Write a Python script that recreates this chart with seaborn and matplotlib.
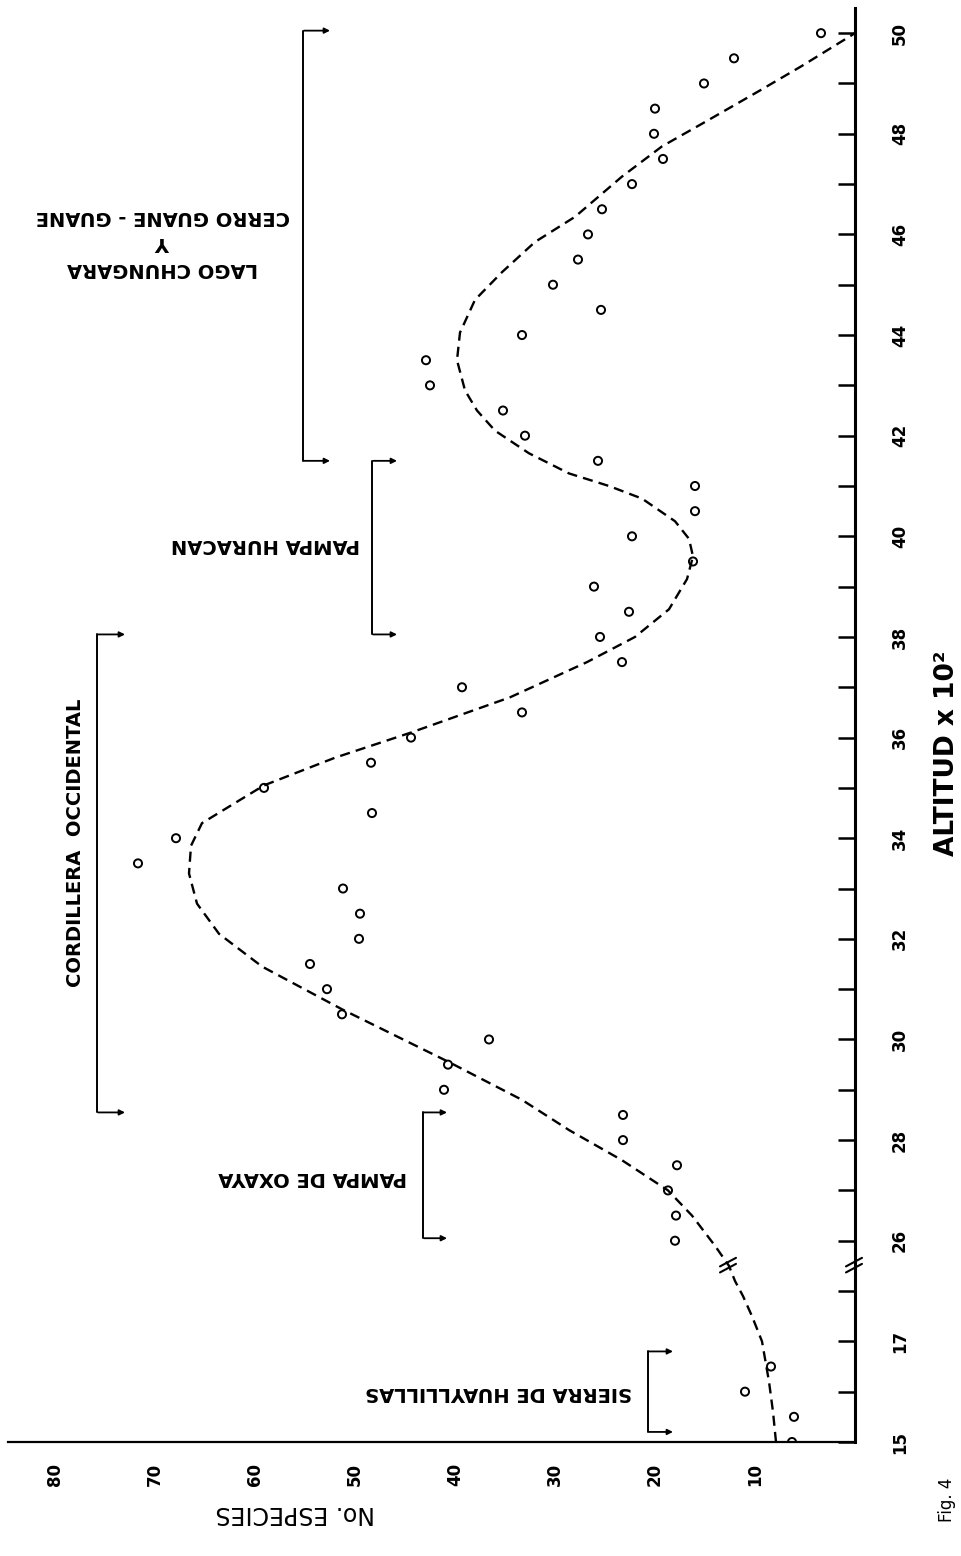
"""Species richness vs altitude (Fig. 4), drawn in the rotated layout of the scan"""

import numpy as np
import pandas as pd
import matplotlib
matplotlib.use("Agg")
import matplotlib.pyplot as plt
import seaborn as sns

# observed points: altitude (x100 m) and number of species
altitud = [15.0, 15.5, 16.0, 16.5,
           26.0, 26.5, 27.0, 27.5, 28.0, 28.5, 29.0, 29.5, 30.0, 30.5,
           31.0, 31.5, 32.0, 32.5, 33.0, 33.5, 34.0, 34.5, 35.0, 35.5,
           36.0, 36.5, 37.0, 37.5, 38.0, 38.5, 39.0, 39.5, 40.0, 40.5,
           41.0, 41.5, 42.0, 42.5, 43.0, 43.5, 44.0, 44.5, 45.0, 45.5,
           46.0, 46.5, 47.0, 47.5, 48.0, 48.5, 49.0, 49.5, 50.0]
especies = [6.3, 6.1, 11.0, 8.4,
            18.0, 17.9, 18.7, 17.8, 23.2, 23.2, 41.1, 40.7, 36.6, 51.3,
            52.8, 54.5, 49.6, 49.5, 51.2, 71.7, 67.9, 48.3, 59.1, 48.4,
            44.4, 33.3, 39.3, 23.3, 25.5, 22.6, 26.1, 16.2, 22.3, 16.0,
            16.0, 25.7, 33.0, 35.2, 42.5, 42.9, 33.3, 25.4, 30.2, 27.7,
            26.7, 25.3, 22.3, 19.2, 20.1, 20.0, 15.1, 12.1, 3.4]

# hand-drawn trend curve
curva_alt = [15.0, 15.6, 16.2, 17.0, 17.5, 17.9, 18.2, 18.5,
             25.9, 26.5, 27.0, 27.6, 28.2, 28.8, 29.55, 30.6, 31.45, 32.1,
             32.7, 33.3, 33.85, 34.3, 34.7, 35.05, 35.6, 36.1, 36.8, 37.5,
             38.0, 38.55, 39.15, 39.6, 39.95, 40.3, 40.75, 41.0, 41.25, 41.65,
             42.1, 42.5, 42.9, 43.5, 44.05, 44.7, 45.25, 45.85, 46.35, 47.15,
             47.75, 48.2, 48.85, 49.35, 50.0]
curva_esp = [7.9, 8.2, 8.6, 9.3, 10.3, 11.2, 12.0, 12.6,
             14.0, 16.3, 18.7, 23.3, 28.6, 33.3, 40.6, 51.3, 59.3, 63.6,
             65.8, 66.6, 66.4, 65.3, 62.0, 59.1, 52.0, 44.4, 34.5, 26.8,
             22.0, 18.6, 16.8, 16.2, 16.6, 18.0, 21.3, 24.6, 28.6, 32.6,
             36.0, 37.8, 39.0, 39.8, 39.5, 38.0, 35.3, 32.0, 28.0, 23.3,
             19.3, 15.3, 9.6, 5.3, 0.0]

# altitude ranges of the named zones
zonas = ["SIERRA DE HUAYLLILLAS", "PAMPA DE OXAYA", "CORDILLERA  OCCIDENTAL",
         "PAMPA HURACAN", "LAGO CHUNGARA\nY\nCERRO GUANE - GUANE"]
zona_desde = [15.2, 26.05, 28.55, 38.05, 41.5]
zona_hasta = [16.8, 28.55, 38.05, 41.5, 50.05]

alt_ticks = [15, 16, 17, 18] + list(range(26, 51))
alt_labels = ["15", "", "17", ""] + [str(a) if a % 2 == 0 else "" for a in range(26, 51)]
esp_ticks = [10, 20, 30, 40, 50, 60, 70, 80]

# broken altitude axis: 15-18.5 then 25.5-50
CORTE_BAJO, CORTE_ALTO = 18.5, 25.5


def alt_to_pos(a):
    a = np.asarray(a, dtype=float)
    return np.where(a <= CORTE_BAJO, a - 15.0, a - (CORTE_ALTO - CORTE_BAJO) - 15.0)


CORTE_POS = float(alt_to_pos(CORTE_BAJO))

sns.set_theme(style="white")
plt.rcParams["font.family"] = ["DejaVu Sans"]
plt.rcParams["font.weight"] = "bold"
plt.rcParams["text.color"] = "black"
plt.rcParams["axes.labelcolor"] = "black"

W, H = 962, 1556
fig = plt.figure(figsize=(W / 100, H / 100), dpi=100)
fig.patch.set_facecolor("white")
ax = fig.add_axes([8 / W, 1 - 1442 / H, (855 - 8) / W, (1442 - 8) / H])
ax.set_facecolor("white")

puntos = pd.DataFrame({"especies": especies, "pos": alt_to_pos(altitud)})
curva = pd.DataFrame({"especies": curva_esp, "pos": alt_to_pos(curva_alt)})

sns.lineplot(data=curva, x="especies", y="pos", sort=False, estimator=None,
             color="black", lw=1.7, ax=ax)
ax.lines[-1].set_linestyle((0, (4.3, 2.6)))
ax.lines[-1].set_solid_joinstyle("round")
sns.scatterplot(data=puntos, x="especies", y="pos", marker="o", s=34,
                facecolors="none", edgecolor="black", linewidth=1.4, ax=ax, zorder=3)

ax.set_xlim(84.7, 0)
ax.set_ylim(0, 28.5)
ax.set_xlabel("")
ax.set_ylabel("")

for side in ["left", "top"]:
    ax.spines[side].set_visible(False)
ax.spines["right"].set_linewidth(2.2)
ax.spines["bottom"].set_linewidth(1.6)
for side in ["right", "bottom"]:
    ax.spines[side].set_color("black")

ax.yaxis.tick_right()
ax.set_yticks(alt_to_pos(alt_ticks))
ax.set_yticklabels(alt_labels)
ax.set_xticks(esp_ticks)
ax.set_xticklabels([str(v) for v in esp_ticks])
ax.tick_params(axis="y", direction="in", length=12, width=1.8, pad=26,
               labelsize=12, labelrotation=90, colors="black")
ax.tick_params(axis="x", direction="in", length=10, width=1.5, pad=15,
               labelsize=12, labelrotation=90, colors="black")
for lbl in ax.get_yticklabels():
    lbl.set_verticalalignment("center")


def marca_corte(x, y):
    # two short slashes, as on the original
    for dy in (0.0, -0.12):
        ax.plot([x + 0.9, x - 0.7], [y - 0.07 + dy, y + 0.1 + dy],
                color="black", lw=1.5, clip_on=False, zorder=4)


marca_corte(0.0, CORTE_POS + 0.06)
marca_corte(12.6, CORTE_POS + 0.06)

# zone brackets: bracket x and arm end x, in species units
corchete_x = [20.7, 43.2, 75.8, 48.3, 55.2]
brazo_x = [18.2, 40.8, 73.0, 45.8, 52.5]
for nombre, lo, hi, bx, ex in zip(zonas, zona_desde, zona_hasta, corchete_x, brazo_x):
    p_lo, p_hi = alt_to_pos(lo), alt_to_pos(hi)
    ax.plot([bx, bx], [p_lo, p_hi], color="black", lw=1.4, clip_on=False)
    for p in (p_lo, p_hi):
        ax.annotate("", xy=(ex, p), xytext=(bx - 0.1, p),
                    arrowprops=dict(arrowstyle="-|>", color="black", lw=1.3,
                                    mutation_scale=8, shrinkA=0, shrinkB=0))

txt = dict(fontsize=14, fontweight="bold", color="black")
ax.text(22.3, 0.99, zonas[0], rotation=180, ha="right", va="center", **txt)
ax.text(44.8, 5.25, zonas[1], rotation=180, ha="right", va="center", **txt)
ax.text(77.9, 11.9, zonas[2], rotation=90, ha="center", va="center", **txt)
ax.text(49.5, 17.83, zonas[3], rotation=180, ha="right", va="center", **txt)
ax.text(56.5, 23.84, zonas[4], rotation=180, ha="right", va="center",
        multialignment="center", linespacing=1.45, **txt)

fig.text(947 / W, 1 - 753 / H, "ALTITUD x 10²", rotation=90, ha="center",
         va="center", fontsize=19, fontweight="bold", color="black")
fig.text(295 / W, 1 - 1513 / H, "No. ESPECIES", rotation=180, ha="center",
         va="center", fontsize=17, fontweight="normal", color="black")
fig.text(947 / W, 1 - 1500 / H, "Fig. 4", rotation=90, ha="center",
         va="center", fontsize=12, fontweight="normal", color="black")

fig.savefig("out.png", dpi=100, facecolor="white")
